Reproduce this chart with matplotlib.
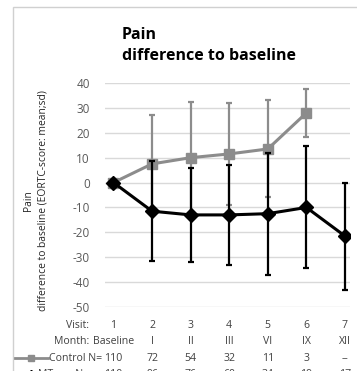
import matplotlib
matplotlib.use("Agg")
from matplotlib import pyplot as plt
from matplotlib.lines import Line2D
from matplotlib.patches import Rectangle
from matplotlib.transforms import blended_transform_factory

plt.rcParams['font.family'] = ['Open Sans', 'DejaVu Sans']
plt.rcParams['axes.unicode_minus'] = False

visits = [1, 2, 3, 4, 5, 6, 7]
months = ['Baseline', 'I', 'II', 'III', 'VI', 'IX', 'XII']

# control group: mean and sd of the change from baseline
ctrl_x = [1, 2, 3, 4, 5, 6]
ctrl_mean = [0, 7.5, 10, 11.5, 13.5, 28]
ctrl_sd = [0, 19.5, 22.5, 20.5, 19.5, 9.5]
ctrl_n = ['110', '72', '54', '32', '11', '3', '--']

# treatment group
mt_x = [1, 2, 3, 4, 5, 6, 7]
mt_mean = [0, -11.5, -13, -13, -12.5, -10, -21.5]
mt_sd = [0, 20, 18.8, 20, 24.5, 24.5, 21.5]
mt_n = ['110', '96', '76', '60', '34', '19', '17']

W, H = 357, 371
fig = plt.figure(figsize=(W / 100, H / 100), dpi=100)
fig.patches.append(Rectangle((13 / W, -0.1), 1.2, 1 - 7 / H + 0.1, transform=fig.transFigure,
                             fill=False, edgecolor='#d0d0d0', linewidth=1))

ax = fig.add_axes([105 / W, 1 - 307 / H, 245 / W, 224 / H])
ax.set_xlim(0.78, 7.13)
ax.set_ylim(-50, 40)
ax.set_yticks(range(-50, 41, 10))
ax.grid(axis='y', color='#d9d9d9', linewidth=1)
ax.set_axisbelow(True)
for s in ax.spines.values():
    s.set_visible(False)
ax.tick_params(length=0, labelsize=8.5, labelcolor='#595959', pad=11)
ax.set_xticks([])

gray = '#8c8c8c'
ax.errorbar(ctrl_x, ctrl_mean, yerr=ctrl_sd, color=gray, ecolor=gray, linewidth=2.2,
            elinewidth=1.6, capsize=2.5, capthick=1.6, marker='s', markersize=7, zorder=3)
ax.errorbar(mt_x, mt_mean, yerr=mt_sd, color='black', ecolor='black', linewidth=2.2,
            elinewidth=1.6, capsize=2.5, capthick=1.6, marker='D', markersize=7, zorder=4)

ax.set_ylabel('Pain\ndifference to baseline (EORTC-score: mean;sd)', fontsize=7.4,
              color='#262626', linespacing=1.5)
ax.yaxis.set_label_coords(-0.23, 0.475)

fig.text(122 / W, 1 - 35 / H, 'Pain', fontsize=11.5, fontweight='bold', va='center', ha='left')
fig.text(122 / W, 1 - 56 / H, 'difference to baseline', fontsize=11.5, fontweight='bold',
         va='center', ha='left')

# data table under the axis
tr = blended_transform_factory(ax.transData, fig.transFigure)
rows = [('Visit:', [str(v) for v in visits], 325.7),
        ('Month:', months, 342),
        ('Control N=', ctrl_n, 358.3),
        ('MT        N=', mt_n, 374.5)]
for label, cells, yp in rows:
    yf = 1 - yp / H
    fig.text(89 / W if label[0] in 'VM' else 102 / W, yf, label, fontsize=7.6,
             color='#404040', ha='right', va='center')
    for xv, c in zip(visits, cells):
        ax.text(xv, yf, c, transform=tr, fontsize=7.6, color='#404040',
                ha='center', va='center', clip_on=False)

fig.lines.append(Line2D([15 / W, 31 / W, 48 / W], [1 - 358.3 / H] * 3, transform=fig.transFigure,
                        color=gray, linewidth=2, marker='s', markersize=5, markevery=[1]))
fig.lines.append(Line2D([15 / W, 31 / W, 48 / W], [1 - 374.5 / H] * 3, transform=fig.transFigure,
                        color='black', linewidth=2, marker='D', markersize=5, markevery=[1]))

fig.savefig('out.png', dpi=100)
